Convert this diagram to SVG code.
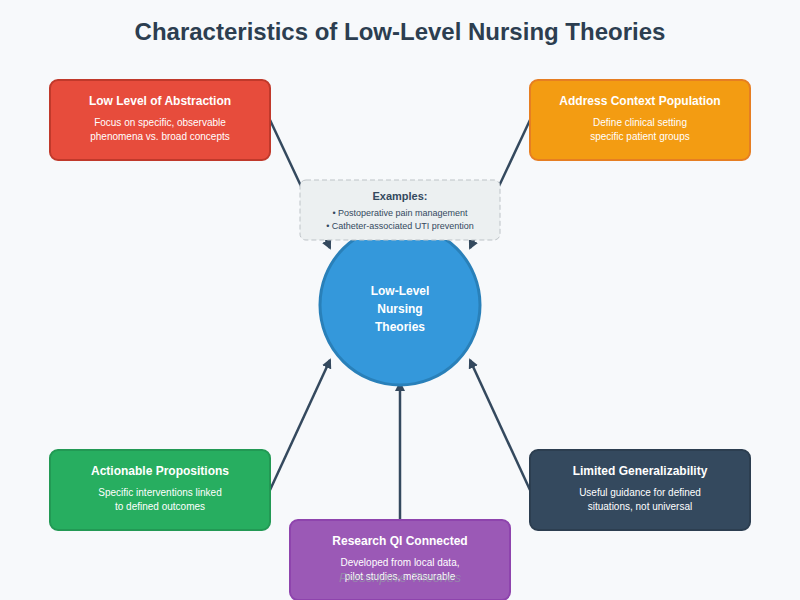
<svg xmlns="http://www.w3.org/2000/svg" width="800" height="600" viewBox="0 0 800 600">
<defs>
<marker id="ah" markerWidth="10" markerHeight="10" refX="8" refY="5" orient="auto" markerUnits="userSpaceOnUse"><path d="M0,0 L10,5 L0,10 Z" fill="#34495e"/></marker>
<style>
text{font-family:"Liberation Sans",Arial,sans-serif;text-anchor:middle}
.t{font-size:12px;font-weight:bold;fill:#fff}
.d{font-size:10px;fill:#fff}
.c{stroke:#34495e;stroke-width:2.5;fill:none}
</style>
</defs>
<rect width="800" height="600" fill="#f7f9fb"/>
<text x="400" y="40" font-size="24" font-weight="bold" fill="#2c3e50">Characteristics of Low-Level Nursing Theories</text>
<g id="connectors">
<line class="c" x1="270" y1="120" x2="330" y2="248" marker-end="url(#ah)"/>
<line class="c" x1="530" y1="120" x2="470" y2="248" marker-end="url(#ah)"/>
<line class="c" x1="270" y1="490" x2="330" y2="360" marker-end="url(#ah)"/>
<line class="c" x1="400" y1="520" x2="400" y2="383" marker-end="url(#ah)"/>
<line class="c" x1="530" y1="490" x2="470" y2="360" marker-end="url(#ah)"/>
</g>
<g id="center">
<circle cx="400" cy="305" r="80" fill="#3498db" stroke="#2980b9" stroke-width="3"/>
<text x="400" y="295" class="t" font-size="13">Low-Level</text>
<text x="400" y="313" class="t" font-size="13">Nursing</text>
<text x="400" y="331" class="t" font-size="13">Theories</text>
</g>
<g id="examples">
<rect x="300" y="180" width="200" height="60" rx="6" fill="#ecf0f1" stroke="#bdc3c7" stroke-dasharray="5,3"/>
<text x="400" y="200" font-size="11" font-weight="bold" fill="#34495e">Examples:</text>
<text x="400" y="216" font-size="9" fill="#34495e">• Postoperative pain management</text>
<text x="400" y="229" font-size="9" fill="#34495e">• Catheter-associated UTI prevention</text>
</g>
<g id="n1">
<rect x="50" y="80" width="220" height="80" rx="8" fill="#e74c3c" stroke="#c0392b" stroke-width="2"/>
<text x="160" y="105" class="t">Low Level of Abstraction</text>
<text x="160" y="126" class="d">Focus on specific, observable</text>
<text x="160" y="140" class="d">phenomena vs. broad concepts</text>
</g>
<g id="n2">
<rect x="530" y="80" width="220" height="80" rx="8" fill="#f39c12" stroke="#e67e22" stroke-width="2"/>
<text x="640" y="105" class="t">Address Context Population</text>
<text x="640" y="126" class="d">Define clinical setting</text>
<text x="640" y="140" class="d">specific patient groups</text>
</g>
<g id="n3">
<rect x="50" y="450" width="220" height="80" rx="8" fill="#27ae60" stroke="#229954" stroke-width="2"/>
<text x="160" y="475" class="t">Actionable Propositions</text>
<text x="160" y="496" class="d">Specific interventions linked</text>
<text x="160" y="510" class="d">to defined outcomes</text>
</g>
<g id="n4">
<rect x="530" y="450" width="220" height="80" rx="8" fill="#34495e" stroke="#2c3e50" stroke-width="2"/>
<text x="640" y="475" class="t">Limited Generalizability</text>
<text x="640" y="496" class="d">Useful guidance for defined</text>
<text x="640" y="510" class="d">situations, not universal</text>
</g>
<g id="n5">
<rect x="290" y="520" width="220" height="80" rx="8" fill="#9b59b6" stroke="#8e44ad" stroke-width="2"/>
<text x="400" y="545" class="t">Research QI Connected</text>
<text x="400" y="566" class="d">Developed from local data,</text>
<text x="400" y="580" class="d">pilot studies, measurable</text>
<text x="400" y="582" font-size="13" font-style="italic" fill="#95a5a6" opacity="0.6">Prescriptive Theories</text>
</g>
</svg>
